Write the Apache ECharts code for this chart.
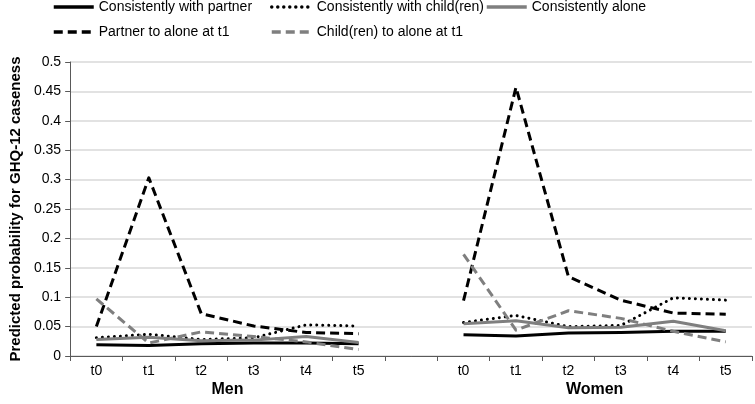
<!DOCTYPE html>
<html>
<head>
<meta charset="utf-8">
<script src="https://cdn.jsdelivr.net/npm/echarts@6/dist/echarts.min.js"></script>
<style>html,body{margin:0;padding:0;background:#fff}#c{width:755px;height:404px}</style>
</head>
<body>
<div id="c"></div>
<script>
// Categories: Men t0..t5, blank gap, Women t0..t5
const tickLabels = ['t0','t1','t2','t3','t4','t5','','t0','t1','t2','t3','t4','t5'];
const groupLabels = ['Men','Women'];
const yTicks = [0,0.05,0.1,0.15,0.2,0.25,0.3,0.35,0.4,0.45,0.5];

const seriesNames = ['Consistently with partner','Consistently with child(ren)','Consistently alone','Partner to alone at t1','Child(ren) to alone at t1'];

const partnerMen   = [0.019, 0.018, 0.021, 0.022, 0.022, 0.021];
const partnerWomen = [0.036, 0.034, 0.039, 0.040, 0.042, 0.042];
const childMen     = [0.031, 0.037, 0.028, 0.031, 0.053, 0.051];
const childWomen   = [0.057, 0.069, 0.050, 0.052, 0.099, 0.095];
const aloneMen     = [0.028, 0.032, 0.026, 0.027, 0.033, 0.023];
const aloneWomen   = [0.055, 0.060, 0.048, 0.049, 0.059, 0.043];
const p2aMen       = [0.050, 0.303, 0.072, 0.051, 0.040, 0.038];
const p2aWomen     = [0.094, 0.457, 0.135, 0.095, 0.073, 0.071];
const c2aMen       = [0.097, 0.022, 0.041, 0.033, 0.024, 0.011];
const c2aWomen     = [0.173, 0.044, 0.077, 0.064, 0.042, 0.024];

function join(m, w){ return m.concat([null], w); }

const styles = [
  {color:'#000000', type:'solid'},
  {color:'#000000', type:[0.01,6], cap:'round'},
  {color:'#7f7f7f', type:'solid'},
  {color:'#000000', type:[9,5]},
  {color:'#7f7f7f', type:[9,5]}
];
const values = [join(partnerMen,partnerWomen), join(childMen,childWomen), join(aloneMen,aloneWomen), join(p2aMen,p2aWomen), join(c2aMen,c2aWomen)];

const font = 'Liberation Sans, Arial, sans-serif';
const series = seriesNames.map((n,i)=>({
  name:n, type:'line', data:values[i], symbol:'none', connectNulls:false,
  color: styles[i].color,
  lineStyle:{color:styles[i].color, width:3, type:styles[i].type, cap:styles[i].cap||'butt', join:'round'},
  animation:false
}));

const legendPos = [[52,0],[270,0],[485,0],[52,25],[270,25]];
const legends = seriesNames.map((n,i)=>({
  data:[n], left:legendPos[i][0], top:legendPos[i][1], padding:0,
  itemWidth:40, itemHeight:14,
  itemStyle:{opacity:0},
  lineStyle:{width:3.5},
  textStyle:{fontFamily:font, fontSize:14, color:'#000'}
}));

const chart = echarts.init(document.getElementById('c'), null, {renderer:'canvas'});
chart.setOption({
  animation:false,
  legend: legends,
  grid:{left:64, right:3, top:62, bottom:48, containLabel:false},
  xAxis:[{
    type:'category', data:tickLabels, boundaryGap:true,
    axisLine:{lineStyle:{color:'#595959', width:1}},
    axisTick:{show:true, interval:0, length:5, lineStyle:{color:'#595959'}},
    axisLabel:{interval:0, margin:8, fontFamily:font, fontSize:14, color:'#000'},
    splitLine:{show:false}
  },{
    type:'value', min:0, max:tickLabels.length, interval:1, position:'bottom', offset:18,
    axisLine:{show:false}, axisTick:{show:false}, splitLine:{show:false},
    axisLabel:{margin:8, fontFamily:font, fontSize:16, fontWeight:'bold', color:'#000',
      formatter:v=> v===3 ? groupLabels[0] : (v===10 ? groupLabels[1] : '')}
  }],
  yAxis:{
    type:'value', min:yTicks[0], max:yTicks[yTicks.length-1], interval:0.05,
    name:'Predicted probability for GHQ-12 caseness', nameLocation:'middle', nameGap:45,
    nameTextStyle:{fontFamily:font, fontSize:15, fontWeight:'bold', color:'#000'},
    axisLine:{show:true, lineStyle:{color:'#595959'}},
    axisTick:{show:true, length:5, lineStyle:{color:'#595959'}},
    axisLabel:{margin:9, fontFamily:font, fontSize:14, color:'#000', formatter:v=>String(+v.toFixed(2))},
    splitLine:{show:true, lineStyle:{color:'#d9d9d9', width:1.5}}
  },
  series: series
});
</script>
</body>
</html>
